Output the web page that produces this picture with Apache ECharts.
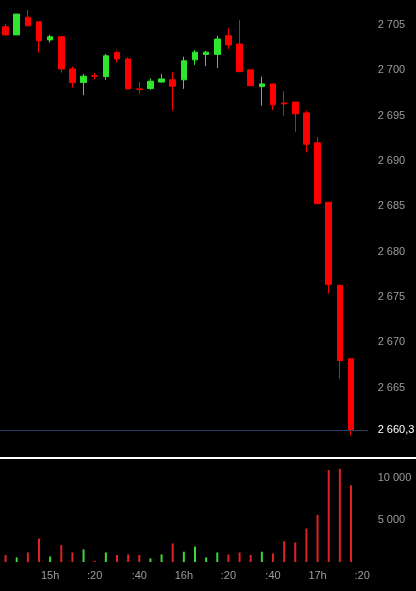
<!DOCTYPE html>
<html>
<head>
<meta charset="utf-8">
<script src="https://cdn.jsdelivr.net/npm/echarts@6/dist/echarts.min.js"></script>
<style>
html,body{margin:0;padding:0;background:#000;}
#chart{width:416px;height:591px;}
</style>
</head>
<body>
<div id="chart"></div>
<script>
// categories: 5-minute bars, last slot empty (17:20)
var categories = ["14:40","14:45","14:50","14:55","15:00","15:05","15:10","15:15","15:20","15:25","15:30","15:35","15:40","15:45","15:50","15:55","16:00","16:05","16:10","16:15","16:20","16:25","16:30","16:35","16:40","16:45","16:50","16:55","17:00","17:05","17:10","17:15","17:20"];
var tickLabels = {"15:00":"15h","15:20":":20","15:40":":40","16:00":"16h","16:20":":20","16:40":":40","17:00":"17h","17:20":":20"};
var opens  = [2704.8,2703.9,2705.85,2705.35,2703.35,2703.7,2700.15,2698.65,2699.4,2699.3,2701.95,2701.25,2697.95,2698.0,2698.7,2698.95,2698.95,2701.15,2701.75,2701.75,2703.8,2702.9,2700.05,2698.2,2698.5,2696.4,2696.5,2695.3,2692.0,2685.45,2676.3,2668.2];
var closes = [2703.9,2706.2,2704.9,2703.25,2703.7,2700.15,2698.65,2699.35,2699.35,2701.6,2701.25,2697.95,2697.9,2698.8,2699.05,2698.25,2701.05,2702.0,2702.0,2703.45,2702.8,2699.85,2698.3,2698.5,2696.2,2696.3,2695.2,2691.85,2685.3,2676.4,2668.0,2660.3];
var lows   = [2703.9,2703.9,2704.9,2701.95,2703.05,2699.75,2698.1,2697.25,2699.0,2698.95,2700.85,2697.95,2697.45,2697.85,2698.65,2695.55,2697.95,2700.6,2700.45,2700.25,2702.35,2699.85,2698.3,2696.1,2695.6,2695.0,2693.2,2690.95,2685.3,2675.4,2666.0,2659.75];
var highs  = [2705.1,2706.2,2706.65,2705.35,2703.9,2703.7,2700.4,2699.6,2699.7,2701.8,2702.15,2701.45,2698.7,2699.1,2699.6,2699.8,2701.5,2702.25,2702.15,2703.8,2704.65,2705.55,2700.05,2699.3,2698.5,2697.7,2696.5,2695.55,2692.65,2685.45,2676.3,2668.2];
var volumes = [830,550,1130,2790,660,2010,1130,1490,150,1130,830,900,830,430,900,2200,1220,1840,550,1130,900,1130,830,1220,1020,2440,2320,3970,5590,10910,11060,9100];
var lastPrice = 2660.3;

var UP = '#2ee62e', DOWN = '#ff0000';
var VUP = '#3ad63a', VDOWN = '#e02222';

var candleData = opens.map(function(o,i){ return [o, closes[i], lows[i], highs[i]]; });
var volData = volumes.map(function(v,i){
  return {value: v, itemStyle: {color: closes[i] > opens[i] ? VUP : VDOWN}};
});

function fmt(v){
  var s = String(v).replace('.', ',');
  var parts = s.split(',');
  var ip = parts[0].replace(/\B(?=(\d{3})+(?!\d))/g, ' ');
  return parts.length > 1 ? ip + ',' + parts[1] : ip;
}

var FONT = 'Liberation Sans';
var GREY = '#9c9c9c';
var chart = echarts.init(document.getElementById('chart'), null, {renderer:'canvas'});
var option = {
  backgroundColor: '#000',
  animation: false,
  grid: [
    {left: 0, width: 367.7, top: 0, height: 455.8},
    {left: 0, width: 367.7, top: 462, height: 100}
  ],
  xAxis: [
    {type:'category', data: categories, gridIndex:0, show:false, boundaryGap:true},
    {type:'category', data: categories, gridIndex:1, boundaryGap:true,
     axisLine:{show:false}, axisTick:{show:false}, splitLine:{show:false},
     axisLabel:{
       color: GREY, fontFamily: FONT, fontSize: 11, margin: 8,
       interval: function(i, v){ return tickLabels.hasOwnProperty(v); },
       formatter: function(v){ return tickLabels[v] || ''; }
     }}
  ],
  yAxis: [
    {type:'value', gridIndex:0, position:'right', min:2657.5, max:2707.75, interval:2.5,
     axisLine:{show:false}, axisTick:{show:false}, splitLine:{show:false},
     axisLabel:{color: GREY, fontFamily: FONT, fontSize: 11, margin: 10,
       showMinLabel:false, showMaxLabel:false,
       formatter: function(v){ return (v <= 2660 || Math.abs(v % 5) > 0.01) ? '' : fmt(v); }}},
    {type:'value', gridIndex:1, position:'right', min:0, max:11860, interval:5000,
     axisLine:{show:false}, axisTick:{show:false}, splitLine:{show:false},
     axisLabel:{color: GREY, fontFamily: FONT, fontSize: 11, margin: 10,
       showMinLabel:false, showMaxLabel:false,
       formatter: function(v){ return v === 0 ? '' : fmt(v); }}}
  ],
  series: [
    {type:'candlestick', xAxisIndex:0, yAxisIndex:0, data: candleData, barWidth: 6,
     itemStyle:{color: UP, color0: DOWN, borderColor: UP, borderColor0: DOWN, borderWidth: 1},
     markLine:{
       silent:true, symbol:['none','none'],
       lineStyle:{color:'#2a3c66', width:1, type:'solid'},
       label:{show:true, position:'end', distance:10, color:'#ffffff', fontFamily: FONT, fontSize: 11,
         formatter: function(){ return fmt(lastPrice); }},
       data:[{yAxis: lastPrice}]
     }},
    {type:'bar', xAxisIndex:1, yAxisIndex:1, data: volData, barWidth: 2}
  ],
  graphic: [
    {type:'rect', shape:{x:0, y:457, width:416, height:2}, style:{fill:'#ffffff'}, silent:true}
  ]
};
chart.setOption(option);
</script>
</body>
</html>
